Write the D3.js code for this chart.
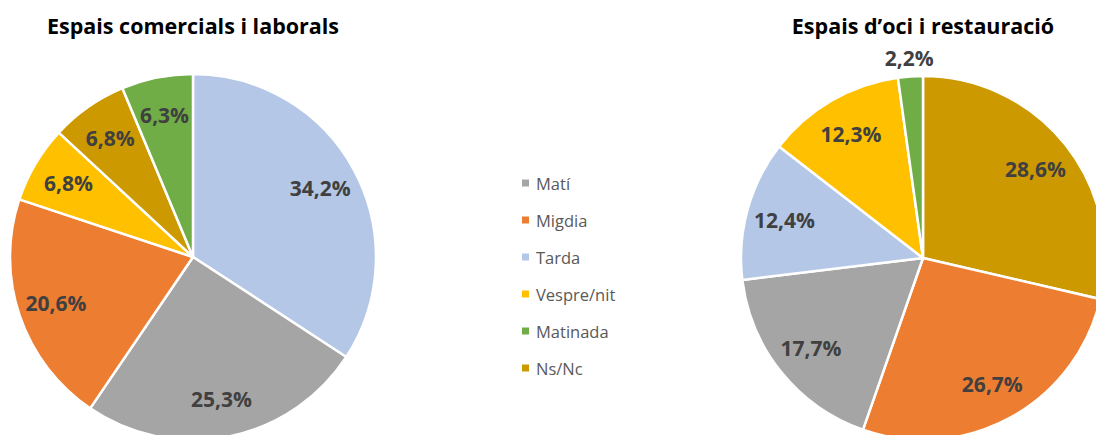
<!DOCTYPE html>
<html>
<head>
<meta charset="utf-8">
<script src="https://cdn.jsdelivr.net/npm/d3@7"></script>
<style>
  body { margin: 0; background: #fff; }
  svg { display: block; }
</style>
</head>
<body>
<script>
var W = 1096, H = 435;

// legend order
var categories = ["Matí", "Migdia", "Tarda", "Vespre/nit", "Matinada", "Ns/Nc"];

// left pie, clockwise from 12 o'clock
var comercialsCats = ["Tarda", "Matí", "Migdia", "Vespre/nit", "Ns/Nc", "Matinada"];
var comercialsValues = [34.2, 25.3, 20.6, 6.8, 6.8, 6.3];

// right pie, clockwise from 12 o'clock
var ociCats = ["Ns/Nc", "Migdia", "Matí", "Tarda", "Vespre/nit", "Matinada"];
var ociValues = [28.6, 26.7, 17.7, 12.4, 12.3, 2.2];

var color = d3.scaleOrdinal()
  .domain(categories)
  .range(["#a5a5a5", "#ed7d31", "#b4c7e7", "#ffc000", "#70ad47", "#cc9900"]);

var FONT = '"Open Sans", "Noto Sans", sans-serif';

var svg = d3.select("body").append("svg")
  .attr("width", W).attr("height", H);

var fmt = function(v){ return d3.format(".1f")(v).replace(".", ",") + "%"; };

var drawPie = function(cx, cy, R, cats, values, title){
  var data = cats.map(function(c, i){ return {cat: c, value: values[i]}; });
  var pie = d3.pie().sort(null).value(function(d){ return d.value; });
  var arc = d3.arc().innerRadius(0).outerRadius(R);
  var labelArc = d3.arc().innerRadius(R * 0.79).outerRadius(R * 0.79);
  var outArc = d3.arc().innerRadius(R + 18).outerRadius(R + 18);

  var g = svg.append("g").attr("transform", "translate(" + cx + "," + cy + ")");

  g.selectAll("path.slice")
    .data(pie(data))
    .enter().append("path")
    .attr("class", "slice")
    .attr("d", arc)
    .attr("fill", function(d){ return color(d.data.cat); })
    .attr("stroke", "#fff")
    .attr("stroke-width", 2.5)
    .attr("stroke-linejoin", "round");

  g.selectAll("text.lbl")
    .data(pie(data))
    .enter().append("text")
    .attr("class", "lbl")
    .attr("transform", function(d){
      var p = d.data.value < 3 ? outArc.centroid(d) : labelArc.centroid(d);
      return "translate(" + p[0] + "," + p[1] + ")";
    })
    .attr("text-anchor", "middle")
    .attr("dominant-baseline", "central")
    .style("font-family", FONT)
    .style("font-weight", "bold")
    .style("font-size", "21px")
    .attr("fill", "#404040")
    .text(function(d){ return fmt(d.data.value); });

  svg.append("text")
    .attr("x", cx)
    .attr("y", 34)
    .attr("text-anchor", "middle")
    .style("font-family", FONT)
    .style("font-weight", "bold")
    .style("font-size", "21.5px")
    .attr("fill", "#000")
    .text(title);
};

drawPie(193, 257, 183, comercialsCats, comercialsValues, "Espais comercials i laborals");
drawPie(923, 258, 182, ociCats, ociValues, "Espais d\u2019oci i restauració");

// Legend
var ly = d3.scalePoint().domain(categories).range([183, 368]);
var legend = svg.append("g").attr("class", "legend");
var items = legend.selectAll("g")
  .data(categories)
  .enter().append("g")
  .attr("transform", function(d){ return "translate(522," + ly(d) + ")"; });
items.append("rect")
  .attr("x", 0).attr("y", -3.5)
  .attr("width", 7).attr("height", 7)
  .attr("fill", function(d){ return color(d); });
items.append("text")
  .attr("x", 14)
  .attr("y", 0)
  .attr("dominant-baseline", "central")
  .style("font-family", FONT)
  .style("font-size", "16.5px")
  .attr("fill", "#595959")
  .text(function(d){ return d; });
</script>
</body>
</html>
